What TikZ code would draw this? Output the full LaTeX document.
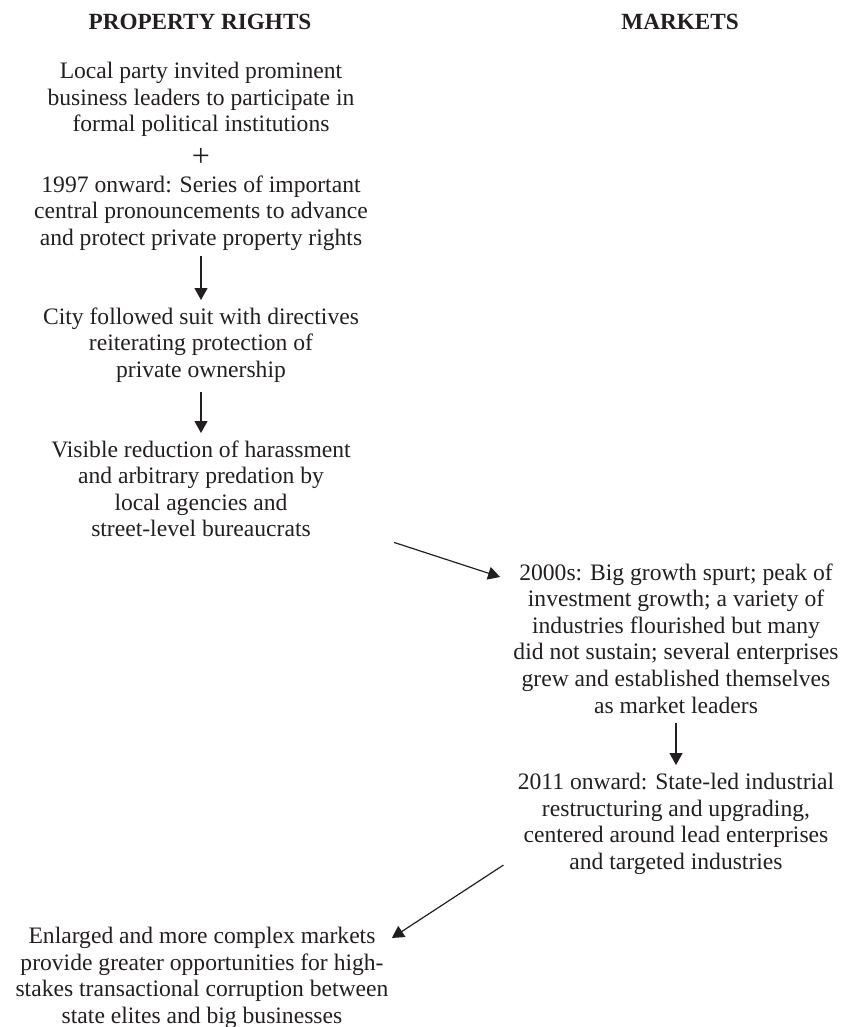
\documentclass[tikz,border=0pt]{standalone}
\usepackage{fontspec}
\setmainfont{Liberation Serif}
\usetikzlibrary{arrows.meta}
\definecolor{ink}{HTML}{231F20}

\begin{document}
\begin{tikzpicture}[x=0.5pt,y=-0.5pt,color=ink,
  txt/.style={align=center,inner sep=0pt,anchor=north,font=\fontsize{11.8}{13.3}\selectfont},
  ttl/.style={inner sep=0pt,anchor=base,font=\fontsize{11.6}{13.3}\selectfont\bfseries},
  arr/.style={-{Triangle[length=6pt,width=6.5pt]},line width=0.6pt}]
\useasboundingbox (0,0) rectangle (846,1027);
\node[ttl] (pr) at (200,30) {PROPERTY RIGHTS};
\node[ttl] (mk) at (680,30) {MARKETS};
\node[txt] (a) at (201,62) {Local party invited prominent\\business leaders to participate in\\formal political institutions};
\node[inner sep=0pt,font=\fontsize{16}{16}\selectfont] (plus) at (201,157) {+};
\node[txt] (b) at (201,175) {1997 onward: Series of important\\central pronouncements to advance\\and protect private property rights};
\node[txt] (c) at (201,307) {City followed suit with directives\\reiterating protection of\\private ownership};
\node[txt] (d) at (201,440) {Visible reduction of harassment\\and arbitrary predation by\\local agencies and\\street-level bureaucrats};
\node[txt] (e) at (676,563) {2000s: Big growth spurt; peak of\\investment growth; a variety of\\industries flourished but many\\did not sustain; several enterprises\\grew and established themselves\\as market leaders};
\node[txt] (f) at (676,773) {2011 onward: State-led industrial\\restructuring and upgrading,\\centered around lead enterprises\\and targeted industries};
\node[txt] (g) at (202,927) {Enlarged and more complex markets\\provide greater opportunities for high-\\stakes transactional corruption between\\state elites and big businesses};
% arrows down the columns
\draw[arr,shorten <=2.5pt,shorten >=3.5pt] (b.south) -- (c.north);
\draw[arr,shorten <=4.5pt,shorten >=3.5pt] (c.south) -- (d.north);
\draw[arr,shorten <=4.5pt,shorten >=4pt] (e.south) -- (f.north);
% arrows across
\draw[arr] ([shift={(43,5)}]d.south east) -- ([shift={(-13,14)}]e.north west);
\draw[arr] ([shift={(-14,-10)}]f.south west) -- ([shift={(3,11)}]g.north east);
\end{tikzpicture}
\end{document}
